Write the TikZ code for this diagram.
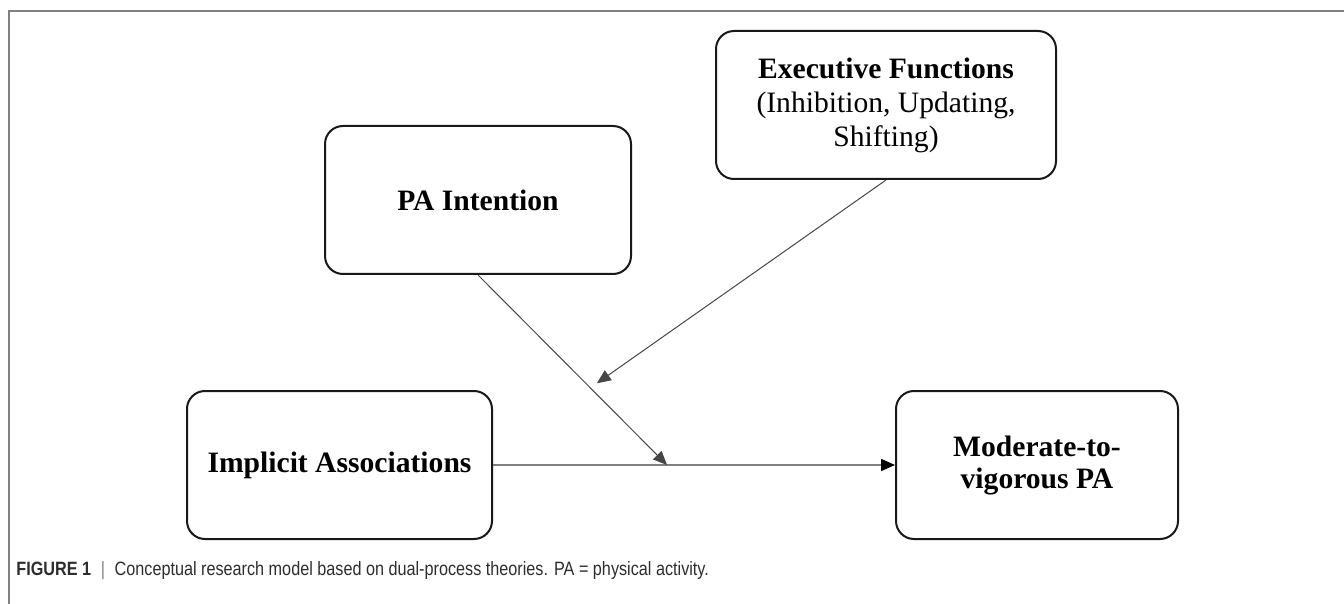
\documentclass[tikz,border=0pt]{standalone}
\usepackage{fontspec}
\setmainfont{Liberation Serif}
\newfontfamily\capfont[FakeStretch=0.84]{Liberation Sans}
\usetikzlibrary{arrows.meta,calc}
\definecolor{boxline}{RGB}{25,25,25}
\definecolor{frameline}{RGB}{128,128,128}
\definecolor{arrline}{RGB}{70,70,70}
\definecolor{captext}{RGB}{45,45,45}
\tikzset{
  box/.style={draw=boxline, line width=1pt, rounded corners=9pt, inner sep=0pt,
    minimum height=74pt, align=center, font=\fontsize{14.8}{16.6}\selectfont},
  conn/.style={draw=arrline, line width=0.5pt, -{Triangle[length=7pt,width=6pt]}},
  mainconn/.style={draw=frameline, line width=0.75pt, -{Triangle[length=7pt,width=6pt,color=black]}},
  frame/.style={draw=frameline, line width=0.75pt}
}
\begin{document}
\begin{tikzpicture}[x=0.5pt,y=-0.5pt]
\useasboundingbox (0,0) rectangle (1344,604);
\draw[frame] (9,604) -- (9,11) -- (1344,11);
\node[box, minimum width=170pt, font=\fontsize{14.8}{17}\selectfont] (exec) at (886,105)
  {\textbf{Executive Functions}\\(Inhibition, Updating,\\Shifting)};
\node[box, minimum width=153pt] (pa) at (478,200) {\textbf{PA Intention}};
\node[box, minimum width=152.5pt] (impl) at (339.5,465) {\textbf{Implicit Associations}};
\node[box, minimum width=141pt, font=\fontsize{14.8}{16}\selectfont] (mod) at (1037,465) {\textbf{Moderate-to-}\\\textbf{vigorous PA}};
\coordinate (j) at ($(impl.east)!0.433!(mod.west)$);
\coordinate (m) at ($(pa.south)!0.594!(j)$);
\draw[mainconn] (impl.east) -- (mod.west);
\draw[conn] (pa.south) -- (j);
\draw[conn, shorten >=4pt] (exec.south) -- (m);
\node[anchor=base west, inner sep=0pt, font=\capfont\fontsize{9.65}{11}\selectfont, text=captext] (cap) at (16,575)
  {\textbf{FIGURE 1}\hspace{0.5em}{\color{frameline}|}\hspace{0.5em}Conceptual research model based on dual-process theories. PA = physical activity.};
\end{tikzpicture}
\end{document}
